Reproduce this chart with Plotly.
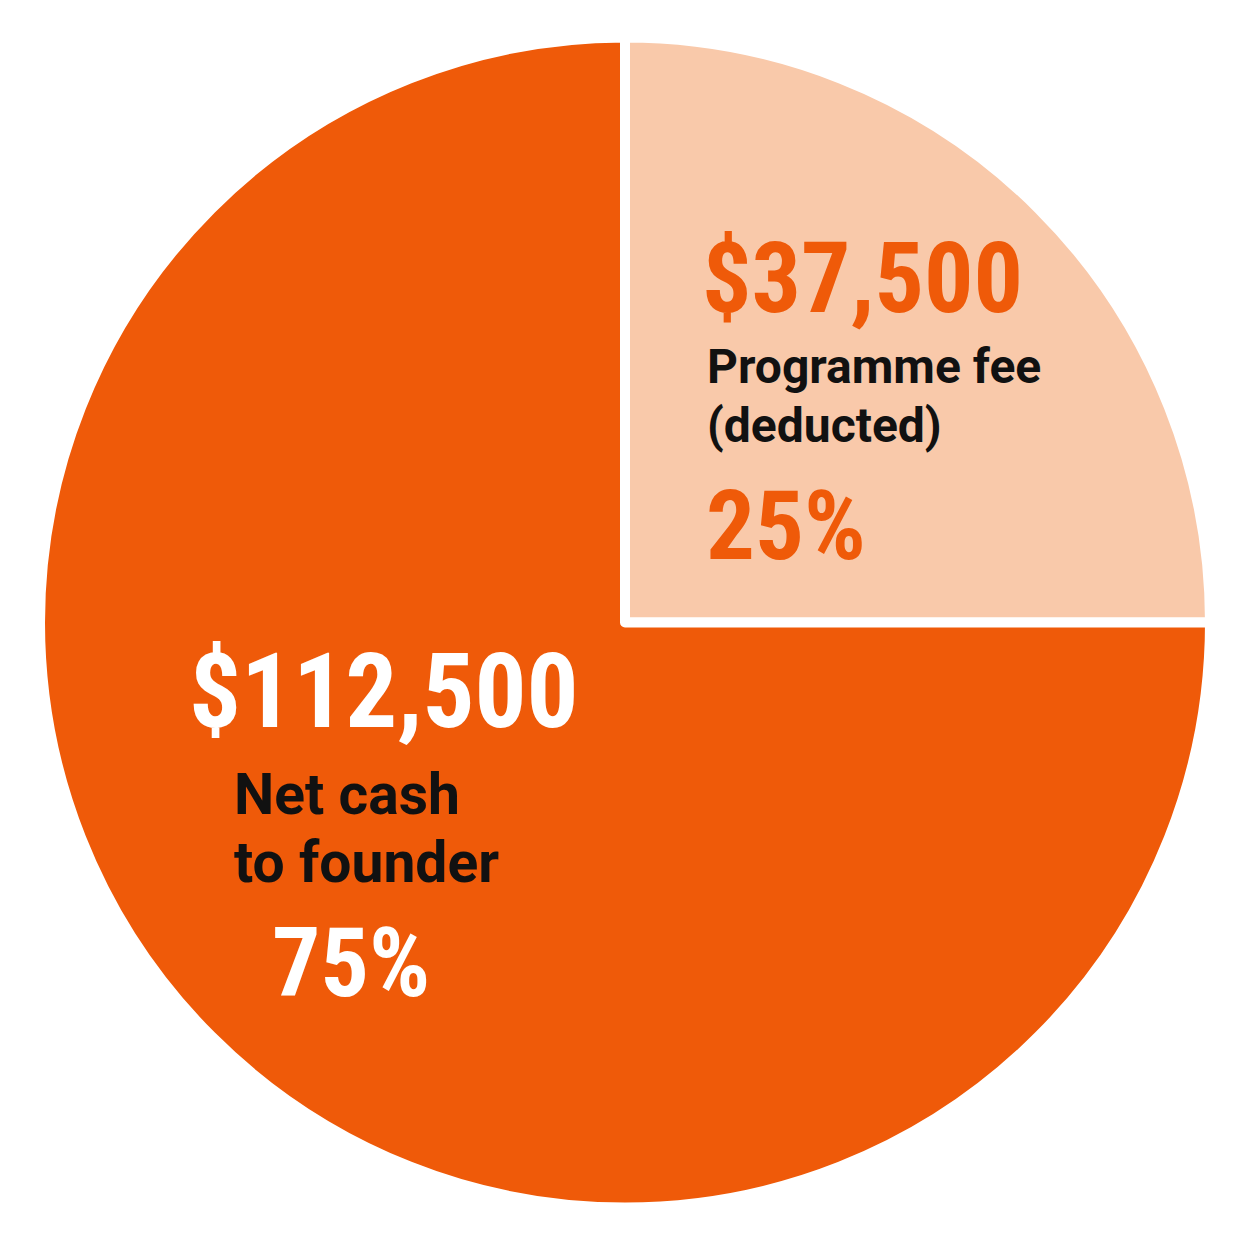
import plotly.graph_objects as go

# data
labels = ["Programme fee (deducted)", "Net cash to founder"]
values = [37500, 112500]
slice_colors = ["#F9C9AA", "#EF5A09"]
label_lines = [["Programme fee", "(deducted)"], ["Net cash", "to founder"]]

W = H = 1254
total = sum(values)
amounts = ["${:,}".format(v) for v in values]
percents = ["{:.0f}%".format(100 * v / total) for v in values]


def px(x):
    return x / W


def py(y):
    # page body has an 8px margin
    return 1 - (y - 8) / H


big_font = "Liberation Sans Narrow, Roboto Condensed, DejaVu Sans Condensed, sans-serif"
small_font = "Roboto, Liberation Sans, sans-serif"

fig = go.Figure()
fig.add_trace(go.Pie(
    labels=labels,
    values=values,
    sort=False,
    direction="clockwise",
    rotation=0,
    textinfo="none",
    hoverinfo="label+value+percent",
    marker=dict(colors=slice_colors, line=dict(color="white", width=10)),
    domain=dict(x=[px(32), px(1202)], y=[1 - 1199.5 / H, 1 - 29.5 / H]),
    showlegend=False,
))

annos = [
    # fee slice
    dict(x=692, y=278, text=amounts[0], size=98, color="#EF5A09", font=big_font),
    dict(x=697, y=366, text=label_lines[0][0], size=48, color="#111111", font=small_font),
    dict(x=697, y=425, text=label_lines[0][1], size=48, color="#111111", font=small_font),
    dict(x=696, y=526, text=percents[0], size=97, color="#EF5A09", font=big_font),
    # founder slice
    dict(x=179, y=691, text=amounts[1], size=103, color="white", font=big_font),
    dict(x=224, y=794, text=label_lines[1][0], size=57, color="#111111", font=small_font),
    dict(x=224, y=862, text=label_lines[1][1], size=57, color="#111111", font=small_font),
    dict(x=262, y=963, text=percents[1], size=96, color="white", font=big_font),
]

for a in annos:
    fig.add_annotation(
        x=px(a["x"]), y=py(a["y"]), xref="paper", yref="paper",
        xanchor="left", yanchor="middle", align="left",
        text="<b>%s</b>" % a["text"], showarrow=False,
        font=dict(family=a["font"], size=a["size"], color=a["color"]),
    )

fig.update_layout(
    width=W,
    height=H,
    margin=dict(l=0, r=0, t=0, b=0),
    paper_bgcolor="white",
    plot_bgcolor="white",
)

fig.write_html("out.html")
